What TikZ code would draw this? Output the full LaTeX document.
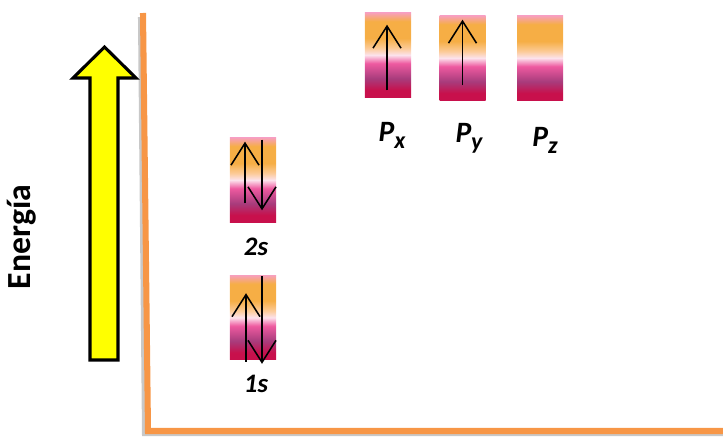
\documentclass[tikz,border=0pt]{standalone}
\usepackage{fontspec}
\setmainfont{Carlito}
\usetikzlibrary{arrows.meta, positioning}
\definecolor{caxis}{HTML}{F79646}
\definecolor{cshadow}{HTML}{C8C8C8}
\definecolor{cyellow}{HTML}{FFFF00}
\definecolor{ccrimson}{HTML}{C8104C}
\definecolor{cmauve}{HTML}{A83C7C}
\definecolor{cpink}{HTML}{EE5AA0}
\definecolor{cwhite}{HTML}{FCE2EC}
\definecolor{cpeach}{HTML}{FCCB98}
\definecolor{corange}{HTML}{F6AE45}
\definecolor{ctop}{HTML}{F7A0B8}
\pgfdeclareverticalshading{orbital}{100bp}{color(0bp)=(ccrimson); color(25bp)=(ccrimson);
  color(29bp)=(ccrimson); color(36bp)=(cmauve); color(45bp)=(cpink); color(50bp)=(cwhite);
  color(54bp)=(cpeach); color(60bp)=(corange); color(70bp)=(corange); color(75bp)=(ctop);
  color(100bp)=(ctop)}
\tikzset{
  orbbox/.style={shading=orbital, minimum width=1.15cm, minimum height=2.1cm, inner sep=0pt},
  spin/.style={-{Straight Barb[length=5.5mm, width=7mm]}, line width=1.1pt},
  slabel/.style={font=\bfseries\itshape\fontsize{19}{19}\selectfont},
  plabel/.style={font=\bfseries\itshape\fontsize{21}{21}\selectfont},
  axis/.style={draw=caxis, line width=4.3pt},
}
\newcommand{\psub}[1]{\raisebox{-5pt}{\fontsize{17}{17}\selectfont #1}}

\begin{document}
\begin{tikzpicture}[x=0.025cm, y=-0.025cm]
  \useasboundingbox (0,0) rectangle (723,440);
  % axes with their soft shadow
  \draw[axis, draw=cshadow] (141,17) -- (145,433) -- (723,433);
  \draw[axis] (143,13) -- (148,431) -- (723,431);
  % energy arrow
  \draw[fill=cyellow, line width=2.2pt, line join=miter]
    (90,360) -- (90,78) -- (73,78) -- (104.5,47) -- (136,78) -- (118,78) -- (118,360) -- cycle;
  \node[rotate=90, font=\bfseries\fontsize{24}{24}\selectfont] (energia) at (22,237) {Energía};
  % orbitals
  \node[orbbox] (o1s) at (253,317.5) {};
  \node[orbbox] (o2s) at (253,180) {};
  \node[orbbox] (opx) at (388,55) {};
  \node[orbbox] (opy) at (462.5,58) {};
  \node[orbbox] (opz) at (540,58) {};
  \node[slabel] (l1s) at (256,384) {1s};
  \node[slabel] (l2s) at (256,247) {2s};
  \node[plabel] (lpx) at (392,135) {P\psub{x}};
  \node[plabel] (lpy) at (469,138) {P\psub{y}};
  \node[plabel] (lpz) at (545,140) {P\psub{z}};
  % electrons
  \draw[spin] ([xshift=-0.2cm, yshift=0.475cm]o2s.south) -- ([xshift=-0.2cm, yshift=-0.1cm]o2s.north);
  \draw[spin] ([xshift=0.225cm, yshift=-0.05cm]o2s.north) -- ([xshift=0.225cm, yshift=0.3cm]o2s.south);
  \draw[spin] ([xshift=-0.175cm, yshift=-0.05cm]o1s.south) -- ([xshift=-0.175cm, yshift=-0.45cm]o1s.north);
  \draw[spin] ([xshift=0.225cm, yshift=-0.025cm]o1s.north) -- ([xshift=0.225cm, yshift=-0.1cm]o1s.south);
  \draw[spin] ([xshift=-0.025cm, yshift=0.175cm]opx.south) -- ([xshift=-0.025cm, yshift=-0.3cm]opx.north);
  \draw[spin] ([yshift=0.375cm]opy.south) -- ([yshift=-0.1cm]opy.north);
\end{tikzpicture}
\end{document}
